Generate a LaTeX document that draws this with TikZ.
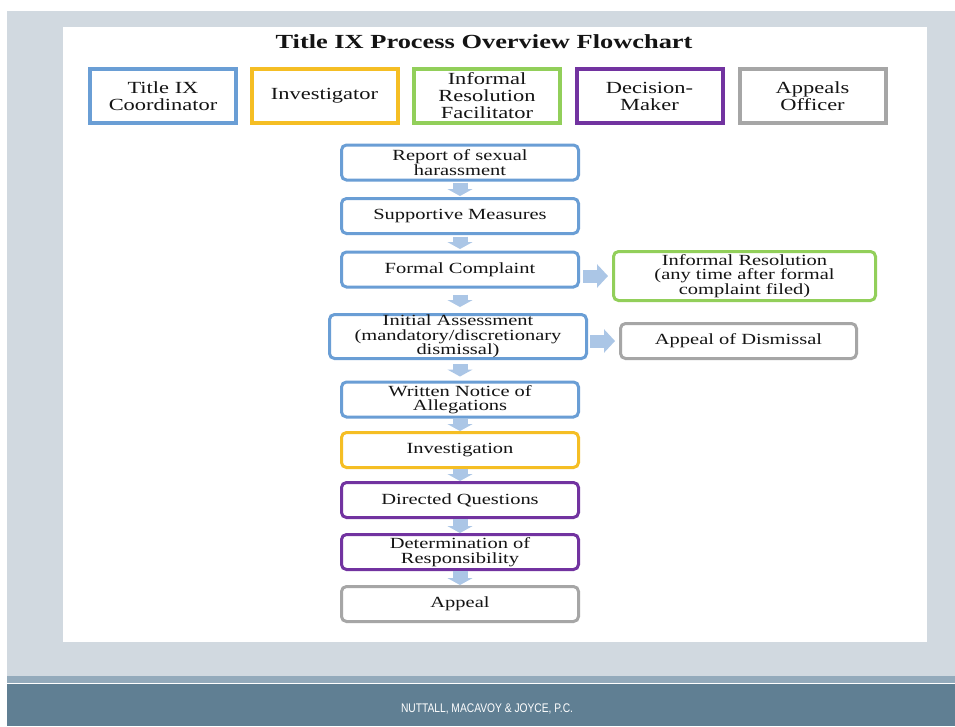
\documentclass[tikz,border=0pt]{standalone}
\usepackage{fontspec}
\setmainfont{Liberation Serif}[FakeStretch=1.32]
\newfontfamily\footfont{Liberation Sans}[FakeStretch=0.82]
\usepackage{tikz}
\usetikzlibrary{arrows.meta}
\definecolor{slidebg}{HTML}{D1D9E0}
\definecolor{footlight}{HTML}{93AABB}
\definecolor{footdark}{HTML}{607F93}
\definecolor{txt}{HTML}{141414}
\definecolor{roleblue}{HTML}{6A9ED5}
\definecolor{roleyellow}{HTML}{F5BE24}
\definecolor{rolegreen}{HTML}{92CF5A}
\definecolor{rolepurple}{HTML}{7233A0}
\definecolor{rolegray}{HTML}{A6A6A6}
\definecolor{arrblue}{HTML}{ABC6E6}

\begin{document}
\begin{tikzpicture}[x=1pt,y=-1pt,
        hdr/.style={draw,fill=white,line width=4pt,minimum width=146pt,minimum height=54pt,inner sep=0pt,align=center,text=txt,font=\fontsize{17}{17}\selectfont},
        flw/.style={draw,fill=white,line width=3pt,rounded corners=5pt,minimum width=237pt,minimum height=35pt,inner sep=0pt,align=center,text=txt,font=\fontsize{15.5}{14.5}\selectfont},
        dn/.style={line width=15pt,color=arrblue,-{Triangle[width=25pt,length=7pt]}},
        rt/.style={line width=13pt,color=arrblue,-{Triangle[width=23pt,length=11pt]}}]
        \useasboundingbox (0,0) rectangle (955,726);
        \fill[white] (0,0) rectangle (955,726);
        \fill[slidebg] (7,11) rectangle (955,676);
        \fill[footlight] (7,676) rectangle (955,683);
        \fill[footdark] (7,684) rectangle (955,726);
        \fill[white] (63,27) rectangle (927,642);
        \node[anchor=base,text=txt,font=\fontsize{20}{24}\selectfont\bfseries] at (484,48) (5e0b7a21) {Title IX Process Overview Flowchart};
        \node[hdr,draw=roleblue] at (163,96) (a41c09d3) {Title IX\\Coordinator};
        \node[hdr,draw=roleyellow] at (324.5,96) (0f7be552) {Investigator};
        \node[hdr,draw=rolegreen] at (487,96) (c3d8a117) {Informal\\Resolution\\Facilitator};
        \node[hdr,draw=rolepurple] at (649.5,96) (7b20e4f9) {Decision-\\Maker};
        \node[hdr,draw=rolegray] at (812.5,96) (e96a3c08) {Appeals\\Officer};
        \node[flw,draw=roleblue] at (460,162.5) (2d4f81ac) {Report of sexual\\harassment};
        \node[flw,draw=roleblue] at (460,216) (91c6e03b) {Supportive Measures};
        \node[flw,draw=roleblue] at (460,269.5) (4ab7d2f0) {Formal Complaint};
        \node[flw,draw=roleblue,minimum width=257pt,minimum height=44pt] at (458,336.5) (d05e9c64) {Initial Assessment\\(mandatory/discretionary\\dismissal)};
        \node[flw,draw=roleblue] at (460,399.5) (68f3a1b7) {Written Notice of\\Allegations};
        \node[flw,draw=roleyellow] at (460,450) (b2e71d45) {Investigation};
        \node[flw,draw=rolepurple] at (460,500) (3c9a06e8) {Directed Questions};
        \node[flw,draw=rolepurple] at (460,552) (f4d21b93) {Determination of\\Responsibility};
        \node[flw,draw=rolegray] at (460,604) (1e8c57da) {Appeal};
        \node[flw,draw=rolegreen,minimum width=262pt,minimum height=49pt] at (744.5,276) (8a6f3e02) {Informal Resolution\\(any time after formal\\complaint filed)};
        \node[flw,draw=rolegray,minimum width=236pt] at (738.5,341) (c71b4d9e) {Appeal of Dismissal};
        \node[text=white,font=\footfont\fontsize{12.5}{14}\selectfont] at (487,709) (0d93ea5f) {NUTTALL, MACAVOY \& JOYCE, P.C.};
        \path
        (2d4f81ac) edge [dn,shorten <=1pt,shorten >=1pt] (91c6e03b)
        (91c6e03b) edge [dn,shorten <=1.5pt,shorten >=1.5pt] (4ab7d2f0)
        (4ab7d2f0) edge [dn,shorten <=6pt,shorten >=6pt] (4ab7d2f0.south |- d05e9c64.north)
        (68f3a1b7.north |- d05e9c64.south) edge [dn,shorten <=4pt,shorten >=4pt] (68f3a1b7)
        (68f3a1b7) edge [dn] (b2e71d45)
        (b2e71d45) edge [dn] (3c9a06e8)
        (3c9a06e8) edge [dn] (f4d21b93)
        (f4d21b93) edge [dn] (1e8c57da)
        (4ab7d2f0.east |- 8a6f3e02.west) edge [rt,shorten <=3pt,shorten >=4pt] (8a6f3e02)
        (d05e9c64.east |- c71b4d9e.west) edge [rt,shorten <=2pt,shorten >=4pt] (c71b4d9e)
        ;
    \end{tikzpicture}
\end{document}
